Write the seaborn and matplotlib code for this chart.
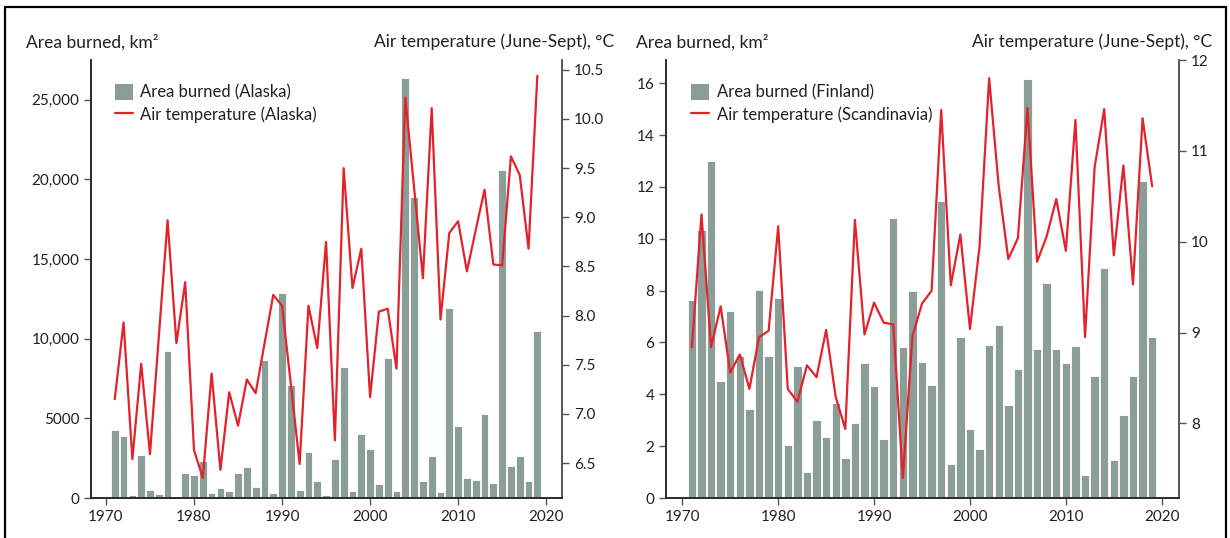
import numpy as np
import pandas as pd
import matplotlib.pyplot as plt
from matplotlib.patches import Patch
from matplotlib.lines import Line2D
import seaborn as sns

# ----------------------------
# Data
# ----------------------------
years = list(range(1971, 2020))

alaska_area = [4300, 3900, 200, 2700, 500, 250, 9250, 0, 1600, 1450,
               2300, 300, 650, 450, 1600, 1950, 700, 8650, 300, 12900,
               7100, 500, 2870, 1070, 170, 2450, 8230, 460, 4040, 3080,
               900, 8800, 460, 26350, 18900, 1070, 2640, 400, 11950, 4550,
               1240, 1150, 5300, 960, 20600, 2000, 2620, 1070, 10500]

alaska_temp = [7.15, 7.93, 6.54, 7.51, 6.59, 7.78, 8.97, 7.72, 8.34, 6.63,
               6.35, 7.41, 6.43, 7.22, 6.88, 7.35, 7.21, 7.71, 8.21, 8.10,
               7.30, 6.49, 8.10, 7.67, 8.75, 6.73, 9.50, 8.28, 8.68, 7.17,
               8.04, 8.07, 7.46, 10.22, 9.30, 8.38, 10.11, 7.96, 8.84, 8.96,
               8.45, 8.87, 9.28, 8.52, 8.51, 9.62, 9.43, 8.68, 10.44]

finland_area = [7.63, 10.33, 13.02, 4.51, 7.21, 5.48, 3.43, 8.01, 5.47, 7.73,
                2.04, 5.10, 0.99, 3.00, 2.36, 3.65, 1.55, 2.90, 5.19, 4.34,
                2.27, 10.80, 5.81, 7.98, 5.25, 4.35, 11.46, 1.30, 6.22, 2.65,
                1.89, 5.92, 6.67, 3.58, 4.96, 16.17, 5.75, 8.31, 5.75, 5.19,
                5.87, 0.89, 4.70, 8.87, 1.46, 3.20, 4.70, 12.22, 6.22]

scand_temp = [8.84, 10.30, 8.84, 9.29, 8.56, 8.76, 8.38, 8.95, 9.02, 10.17,
              8.38, 8.24, 8.64, 8.51, 9.03, 8.29, 7.94, 10.24, 8.98, 9.33,
              9.11, 9.09, 7.40, 8.96, 9.32, 9.46, 11.45, 9.52, 10.08, 9.04,
              9.95, 11.80, 10.61, 9.81, 10.04, 11.47, 9.78, 10.06, 10.47, 9.90,
              11.34, 8.95, 10.82, 11.46, 9.85, 10.84, 9.53, 11.36, 10.61]

x_ticks = [1970, 1980, 1990, 2000, 2010, 2020]
alaska_yticks = [0, 5000, 10000, 15000, 20000, 25000]
alaska_ylabels = ["0", "5000", "10,000", "15,000", "20,000", "25,000"]
alaska_tticks = [6.5, 7.0, 7.5, 8.0, 8.5, 9.0, 9.5, 10.0, 10.5]
finland_yticks = [0, 2, 4, 6, 8, 10, 12, 14, 16]
scand_tticks = [8, 9, 10, 11, 12]

BAR = "#8b9d97"
RED = "#e3222b"
TXT = "#231f20"
SPINE = "#555555"

sns.set_theme(style="ticks")
plt.rcParams["font.family"] = ["Lato", "DejaVu Sans"]

W, H = 1230, 538
fig = plt.figure(figsize=(W / 100, H / 100), dpi=100)


def panel(left_px, right_px, area, temp, ylim, tlim, yticks, ylabels,
          tticks, tlabels, area_name, temp_name, title_left_px, title_right_px):
    ax = fig.add_axes([left_px / W, 40 / H, (right_px - left_px) / W, 438 / H])
    df = pd.DataFrame({"year": years, "area": area, "temp": temp})
    sns.barplot(data=df, x="year", y="area", native_scale=True, width=0.88,
                color=BAR, edgecolor="white", linewidth=0.6, saturation=1,
                ax=ax)
    ax.set_xlim(1968.3, 2021.8)
    ax.set_ylim(*ylim)
    ax.set_xticks(x_ticks)
    ax.set_xticklabels([str(t) for t in x_ticks])
    ax.set_yticks(yticks)
    ax.set_yticklabels(ylabels)
    ax.set_xlabel("")
    ax.set_ylabel("")
    ax.tick_params(labelsize=11, length=5, width=1, colors=SPINE,
                   labelcolor=TXT)
    ax.spines["top"].set_visible(False)
    for s in ("left", "bottom", "right"):
        ax.spines[s].set_linewidth(1.2)
        ax.spines[s].set_color(SPINE)

    ax2 = ax.twinx()
    sns.lineplot(data=df, x="year", y="temp", color=RED, linewidth=1.6,
                 ax=ax2)
    ax2.set_ylim(*tlim)
    ax2.set_yticks(tticks)
    ax2.set_yticklabels(tlabels)
    ax2.set_ylabel("")
    ax2.tick_params(labelsize=11, length=5, width=1, colors=SPINE,
                    labelcolor=TXT)
    ax2.spines["top"].set_visible(False)
    ax2.spines["right"].set_linewidth(1.2)
    ax2.spines["right"].set_color(SPINE)

    handles = [Patch(facecolor=BAR, edgecolor="none"),
               Line2D([0], [0], color=RED, linewidth=1.6)]
    ax2.legend(handles, [area_name, temp_name], loc="upper left",
               bbox_to_anchor=(0.036, 0.96), frameon=False, fontsize=12,
               handlelength=1.1, handleheight=1.1, handletextpad=0.45,
               labelspacing=0.3, borderaxespad=0, labelcolor=TXT)

    fig.text(title_left_px / W, 1 - 42 / H, "Area burned, km²", ha="left",
             va="center", fontsize=12.5, color=TXT)
    fig.text(title_right_px / W, 1 - 42 / H, "Air temperature (June-Sept), °C",
             ha="right", va="center", fontsize=12.5, color=TXT)
    return ax, ax2


panel(91, 562, alaska_area, alaska_temp, (0, 27500), (6.144, 10.6),
      alaska_yticks, alaska_ylabels, alaska_tticks,
      [f"{t:.1f}" for t in alaska_tticks],
      "Area burned (Alaska)", "Air temperature (Alaska)", 26, 614)

panel(666, 1179, finland_area, scand_temp, (0, 16.9), (7.18, 12.0),
      finland_yticks, [str(t) for t in finland_yticks], scand_tticks,
      [str(t) for t in scand_tticks],
      "Area burned (Finland)", "Air temperature (Scandinavia)", 636, 1212)

# outer frame of the figure
for xs, ys in [((5, 1226), (7, 7)), ((5, 5), (7, 538)), ((1226, 1226), (7, 538))]:
    fig.add_artist(Line2D([x / W for x in xs], [1 - y / H for y in ys],
                          color="black", linewidth=1.6))

plt.savefig("out.png", dpi=100)
plt.close()
